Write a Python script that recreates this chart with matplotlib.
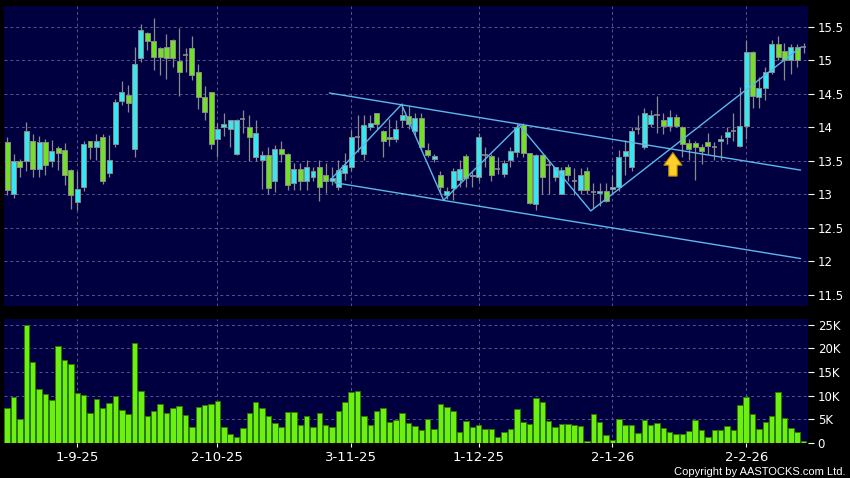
import numpy as np
import matplotlib
matplotlib.use("Agg")
import matplotlib.pyplot as plt

# daily OHLC, oldest first
opens = [13.78, 13.00, 13.50, 13.50, 13.80, 13.37, 13.78, 13.49, 13.69, 13.66,
         13.36, 12.89, 13.10, 13.80, 13.70, 13.86, 13.31, 13.75, 14.39, 14.48,
         13.67, 15.03, 15.40, 15.28, 15.18, 15.20, 15.30, 14.99, 15.08, 15.18,
         14.82, 14.45, 14.52, 13.83, 14.00, 13.98, 13.60, 14.12, 14.01, 13.55,
         13.51, 13.58, 13.19, 13.68, 13.60, 13.16, 13.37, 13.19, 13.25, 13.41,
         13.29, 13.20, 13.10, 13.31, 13.40, 13.86, 13.60, 14.01, 14.21, 13.95,
         13.85, 13.82, 14.10, 14.17, 13.95, 14.13, 13.66, 13.52, 13.28, 12.99,
         13.09, 13.21, 13.57, 13.27, 13.26, 13.59, 13.57, 13.37, 13.30, 13.51,
         13.63, 14.03, 13.62, 12.86, 13.58, 13.43, 13.26, 13.01, 13.40, 13.19,
         13.06, 13.34, 13.03, 13.02, 13.05, 13.08, 13.10, 13.57, 13.40, 13.98,
         13.71, 14.05, 14.18, 14.10, 14.02, 14.15, 14.01, 13.77, 13.77, 13.70,
         13.78, 13.71, 13.80, 13.86, 13.94, 13.72, 14.02, 15.12, 14.45, 14.58,
         14.83, 15.24, 15.14, 15.00, 15.19, 15.19]
highs = [13.85, 13.60, 13.52, 14.08, 13.90, 13.87, 13.83, 13.81, 13.72, 13.76,
         13.37, 13.34, 13.80, 13.80, 13.90, 13.90, 13.88, 14.42, 14.69, 14.63,
         15.20, 15.54, 15.42, 15.63, 15.20, 15.39, 15.32, 15.48, 15.18, 15.36,
         14.95, 14.62, 14.52, 14.06, 14.21, 14.10, 14.12, 14.26, 14.18, 14.10,
         13.64, 13.70, 13.74, 13.80, 13.62, 13.46, 13.46, 13.51, 13.41, 13.51,
         13.46, 13.41, 13.51, 13.61, 13.96, 14.18, 14.18, 14.18, 14.21, 13.96,
         14.12, 14.10, 14.36, 14.31, 14.21, 14.21, 13.76, 13.60, 13.34, 13.10,
         13.39, 13.51, 13.60, 13.35, 13.91, 13.70, 13.60, 13.55, 13.51, 13.70,
         14.06, 14.06, 13.62, 13.60, 13.60, 13.50, 13.40, 13.40, 13.45, 13.39,
         13.39, 13.40, 13.17, 13.17, 13.17, 13.28, 13.66, 13.81, 14.00, 14.18,
         14.28, 14.25, 14.46, 14.21, 14.25, 14.20, 14.02, 13.83, 13.80, 13.75,
         13.91, 13.78, 13.88, 14.00, 14.21, 14.60, 15.30, 15.13, 14.75, 14.90,
         15.30, 15.36, 15.26, 15.24, 15.24, 15.26]
lows = [12.99, 12.94, 13.25, 13.34, 13.25, 13.26, 13.29, 13.41, 13.36, 13.13,
        12.78, 12.76, 13.05, 13.53, 13.51, 13.15, 13.25, 13.70, 14.33, 14.23,
        13.56, 14.98, 15.15, 14.85, 14.78, 14.72, 14.90, 14.47, 14.82, 14.70,
        14.27, 14.11, 13.68, 13.55, 13.87, 13.71, 13.58, 13.91, 13.50, 13.50,
        13.08, 13.00, 13.04, 13.48, 13.06, 13.06, 13.06, 13.06, 13.20, 12.90,
        13.02, 13.13, 13.06, 13.21, 13.35, 13.63, 13.51, 13.96, 13.98, 13.56,
        13.72, 13.78, 14.00, 13.98, 13.88, 13.66, 13.56, 13.48, 13.00, 12.93,
        12.91, 13.10, 13.10, 13.10, 13.20, 13.40, 13.20, 13.30, 13.25, 13.40,
        13.55, 13.55, 12.85, 12.77, 13.00, 13.00, 13.20, 13.00, 13.20, 12.99,
        13.00, 13.00, 12.79, 12.82, 12.88, 13.00, 13.05, 13.29, 13.35, 13.90,
        13.68, 14.00, 13.91, 13.90, 13.95, 14.00, 13.56, 13.51, 13.21, 13.45,
        13.60, 13.51, 13.51, 13.75, 13.80, 13.70, 13.83, 14.28, 14.28, 14.41,
        14.80, 15.00, 14.70, 14.80, 14.90, 15.10]
closes = [13.06, 13.50, 13.40, 13.95, 13.37, 13.78, 13.44, 13.65, 13.62, 13.28,
          12.99, 13.08, 13.75, 13.70, 13.80, 13.20, 13.51, 14.38, 14.53, 14.36,
          14.94, 15.45, 15.28, 15.05, 15.05, 15.03, 15.03, 14.82, 15.08, 14.78,
          14.45, 14.23, 13.75, 13.98, 14.05, 14.10, 14.10, 14.12, 13.85, 13.92,
          13.59, 13.09, 13.68, 13.60, 13.14, 13.37, 13.19, 13.40, 13.34, 13.10,
          13.20, 13.24, 13.36, 13.43, 13.85, 13.86, 14.04, 14.07, 14.05, 13.80,
          13.83, 13.98, 14.18, 14.05, 14.13, 13.71, 13.59, 13.57, 13.10, 13.05,
          13.35, 13.37, 13.24, 13.28, 13.86, 13.59, 13.29, 13.37, 13.47, 13.65,
          14.01, 13.62, 12.87, 13.58, 13.26, 13.43, 13.40, 13.36, 13.29, 13.19,
          13.28, 13.06, 13.03, 13.05, 12.90, 13.10, 13.56, 13.64, 13.95, 13.98,
          14.21, 14.18, 14.18, 14.02, 14.15, 14.02, 13.75, 13.68, 13.71, 13.65,
          13.72, 13.71, 13.82, 13.93, 13.94, 14.02, 15.12, 14.47, 14.58, 14.83,
          15.24, 15.05, 15.00, 15.19, 15.00, 15.19]

# volume in thousands of shares
volume_k = [7.3, 9.8, 5.1, 24.9, 17.1, 11.5, 10.3, 9.1, 20.6, 17.6,
            16.7, 10.6, 10.2, 6.4, 9.4, 7.5, 8.5, 10.0, 7.0, 6.1,
            21.2, 11.0, 5.7, 6.8, 8.3, 6.3, 7.5, 7.9, 6.0, 3.4,
            7.7, 8.1, 8.2, 8.9, 3.3, 2.0, 1.3, 3.2, 6.3, 8.6,
            7.3, 5.8, 4.3, 3.4, 6.5, 6.5, 3.9, 5.6, 3.4, 6.3,
            3.7, 3.3, 6.7, 8.7, 10.7, 11.0, 5.8, 3.8, 6.7, 7.4,
            4.4, 4.9, 6.3, 4.3, 3.6, 2.8, 5.1, 3.0, 8.2, 7.7,
            6.8, 2.4, 4.6, 3.4, 3.7, 3.0, 3.0, 1.3, 2.3, 3.0,
            7.2, 4.5, 4.1, 9.6, 8.7, 4.7, 3.3, 4.0, 4.1, 3.7,
            3.5, 0.4, 6.1, 4.5, 1.7, 0.6, 5.1, 3.8, 3.8, 2.1,
            4.8, 3.7, 4.2, 3.2, 2.4, 2.0, 2.0, 2.5, 4.8, 2.8,
            1.3, 2.7, 2.7, 3.6, 2.7, 8.0, 9.8, 6.2, 3.0, 4.4,
            5.6, 10.7, 5.3, 3.1, 2.3, 0.35]

date_pos = [11, 33, 54, 74, 95, 116]
date_labels = ["1-9-25", "2-10-25", "3-11-25", "1-12-25", "2-1-26", "2-2-26"]
price_ticks = [11.5, 12, 12.5, 13, 13.5, 14, 14.5, 15, 15.5]
vol_ticks = [0, 5, 10, 15, 20, 25]
vol_labels = ["0", "5K", "10K", "15K", "20K", "25K"]

# hand drawn trend lines (bar index, price)
upper_channel = ([50.6, 124.5], [14.51, 13.36])
lower_channel = ([51.5, 124.5], [13.17, 12.04])
zigzag = ([50.7, 61.9, 68.5, 80.4, 91.6, 124.5],
          [13.21, 14.34, 12.91, 14.03, 12.75, 15.19])
arrow_at = (104.5, 13.27, 13.62)

BG = "#000040"
UP = "#33E8F2"
DOWN = "#72E024"
WICK = "#8A8A8A"
GRID = "#56568A"
LINE = "#5CB8EA"

o = np.array(opens)
h = np.array(highs)
l = np.array(lows)
c = np.array(closes)
x = np.arange(len(o))

fig = plt.figure(figsize=(8.5, 4.78), dpi=100, facecolor="black")
ax = fig.add_axes([4 / 850, 1 - 306 / 478, 804 / 850, 300 / 478])
axv = fig.add_axes([4 / 850, 1 - 443 / 478, 804 / 850, 124 / 478])

for a in (ax, axv):
    a.set_facecolor(BG)
    a.yaxis.tick_right()
    a.tick_params(axis="y", colors="white", labelsize=8.5, length=4, pad=3)
    a.tick_params(axis="x", colors="white", labelsize=9.5, length=3, pad=3)
    a.grid(True, color=GRID, linestyle=(0, (3, 3)), linewidth=0.7)
    a.set_axisbelow(True)
    for s in a.spines.values():
        s.set_visible(False)
    a.set_xlim(-0.5, 125.7)
    a.set_xticks(date_pos)

# candles
ax.vlines(x, l, h, color=WICK, linewidth=0.9, zorder=2)
up = c > o
down = c < o
flat = c == o
ax.bar(x[up], (c - o)[up], bottom=o[up], width=0.78, color=UP,
       edgecolor=WICK, linewidth=0.7, zorder=3)
ax.bar(x[down], (o - c)[down], bottom=c[down], width=0.78, color=DOWN,
       edgecolor=WICK, linewidth=0.7, zorder=3)
ax.hlines(c[flat], x[flat] - 0.4, x[flat] + 0.4, color=WICK, linewidth=1.2, zorder=3)

# trend lines
ax.plot(*upper_channel, color=LINE, linewidth=1.0, zorder=4)
ax.plot(*lower_channel, color=LINE, linewidth=1.0, zorder=4)
ax.plot(*zigzag, color=LINE, linewidth=1.0, zorder=4)
ax.annotate("", xy=(arrow_at[0], arrow_at[2]), xytext=(arrow_at[0], arrow_at[1]),
            arrowprops=dict(arrowstyle="simple,head_width=1.3,head_length=0.9,tail_width=0.6",
                            fc="#FFD12A", ec="#C08A00", lw=0.8, shrinkA=0, shrinkB=0),
            zorder=5)

ax.set_ylim(11.331, 15.809)
ax.set_yticks(price_ticks)
ax.set_yticklabels([f"{t:g}" for t in price_ticks])
ax.tick_params(axis="x", length=0, labelbottom=False)

# volume
axv.bar(x, volume_k, width=0.86, color="#6CF012", edgecolor="#2E7A00", linewidth=0.7, zorder=3)
axv.set_ylim(0, 26.2)
axv.set_yticks(vol_ticks)
axv.set_yticklabels(vol_labels)
axv.set_xticklabels(date_labels)

fig.text(846 / 850, 1 - 472 / 478, "Copyright by AASTOCKS.com Ltd.", color="white",
         fontsize=8, family="Liberation Sans", ha="right", va="center")

fig.savefig("out.png", dpi=100, facecolor="black")
